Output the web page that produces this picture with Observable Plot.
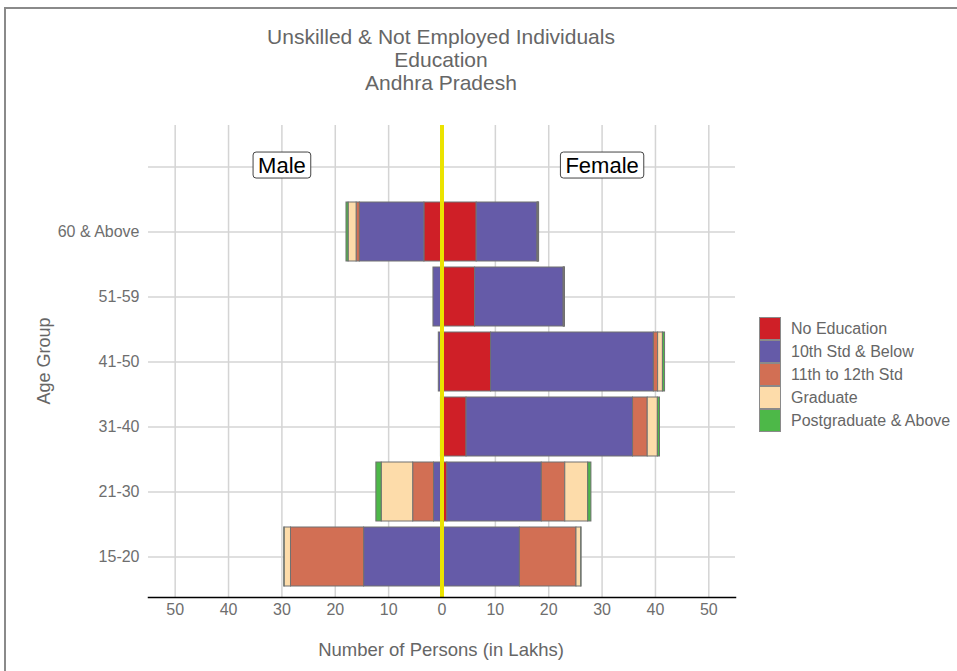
<!DOCTYPE html>
<html><head><meta charset="utf-8">
<script src="https://cdn.jsdelivr.net/npm/d3@7"></script>
<script src="https://cdn.jsdelivr.net/npm/@observablehq/plot@0.6"></script>
<style>
html,body{margin:0;padding:0;background:#fff}
body{width:957px;height:671px;overflow:hidden;position:relative;font-family:"Liberation Sans",Arial,sans-serif;color:#666}
#frame{position:absolute;left:4px;top:7px;width:1000px;height:1000px;border:2px solid #8a8a8a;box-sizing:border-box}
#chart{position:absolute;left:0;top:0}
#title{position:absolute;left:191px;width:500px;top:25px;text-align:center;font-size:21px;line-height:23px;color:#666}
#xlabel{position:absolute;left:191px;width:500px;top:639px;text-align:center;font-size:18.5px;color:#666}
#ylabel{position:absolute;left:44px;top:361px;transform:translate(-50%,-50%) rotate(-90deg);font-size:18px;color:#666;white-space:nowrap}
#legend{position:absolute;left:759px;top:317px}
.li{display:flex;align-items:center;height:23px}
.sw{width:20px;height:21px;border:1px solid #8a8a8a;box-sizing:content-box;margin-right:10px}
.lt{font-size:16px;color:#666;white-space:nowrap}
</style></head><body>
<div id="frame"></div>
<div id="chart"></div>
<div id="title"></div>
<div id="xlabel"></div>
<div id="ylabel"></div>
<div id="legend"></div>
<script>
const titleLines = ["Unskilled & Not Employed Individuals", "Education", "Andhra Pradesh"];
const xTitle = "Number of Persons (in Lakhs)";
const yTitle = "Age Group";
const ageGroups = ["60 & Above", "51-59", "41-50", "31-40", "21-30", "15-20"];
const educationLevels = ["No Education", "10th Std & Below", "11th to 12th Std", "Graduate", "Postgraduate & Above"];
const levelColors = ["#cf1f27", "#655ba8", "#d26f54", "#fddcaa", "#4db848"];
const xTicks = [-50, -40, -30, -20, -10, 0, 10, 20, 30, 40, 50];
const sexLabels = ["Male", "Female"];
const sexLabelX = [-30, 30];

// values in lakhs, per age group (same order as ageGroups)
const maleNoEducation   = [3.3, 0.1, 0.1, 0.1, 0.2, 0.1];
const maleTenth         = [12.1, 1.5, 0.5, 0.1, 1.3, 14.5];
const maleEleventh      = [0.6, 0, 0, 0, 3.9, 13.7];
const maleGraduate      = [1.5, 0, 0, 0, 5.9, 1.2];
const malePostgraduate  = [0.4, 0, 0, 0, 1.0, 0.05];

const femaleNoEducation  = [6.5, 6.2, 9.2, 4.6, 1.0, 0.1];
const femaleTenth        = [11.4, 16.6, 30.5, 31.2, 17.7, 14.5];
const femaleEleventh     = [0.1, 0.1, 0.8, 2.75, 4.4, 10.6];
const femaleGraduate     = [0.15, 0.1, 0.9, 1.9, 4.3, 0.9];
const femalePostgraduate = [0.05, 0.05, 0.4, 0.4, 0.6, 0.05];

const maleSeries = [maleNoEducation, maleTenth, maleEleventh, maleGraduate, malePostgraduate];
const femaleSeries = [femaleNoEducation, femaleTenth, femaleEleventh, femaleGraduate, femalePostgraduate];

const rows = [];
ageGroups.forEach((age, i) => {
  educationLevels.forEach((lvl, j) => {
    if (maleSeries[j][i] > 0) rows.push({age, level: lvl, sex: "Male", value: -maleSeries[j][i]});
  });
  educationLevels.forEach((lvl, j) => {
    if (femaleSeries[j][i] > 0) rows.push({age, level: lvl, sex: "Female", value: femaleSeries[j][i]});
  });
});

const labelRow = " ";
const yDomain = [labelRow, ...ageGroups];

const plot = Plot.plot({
  width: 957, height: 671,
  marginLeft: 148, marginRight: 222, marginTop: 125, marginBottom: 74,
  style: {fontFamily: "'Liberation Sans', Arial, sans-serif", fontSize: "16px", color: "#6e6e6e", background: "transparent", overflow: "visible"},
  x: {domain: [-55, 55], label: null},
  y: {domain: yDomain, paddingInner: 0.1, paddingOuter: 0.15, align: 0.5, label: null},
  color: {domain: educationLevels, range: levelColors},
  marks: [
    Plot.gridX(xTicks, {stroke: "#d4d4d4", strokeOpacity: 1, strokeWidth: 1.5}),
    Plot.gridY(yDomain, {stroke: "#d4d4d4", strokeOpacity: 1, strokeWidth: 1.5}),
    Plot.barX(rows, Plot.stackX({y: "age", x: "value", fill: "level", stroke: "#707070", strokeWidth: 1})),
    Plot.ruleX([0], {stroke: "#ebe300", strokeWidth: 4}),
    Plot.axisX(xTicks, {tickSize: 0, tickPadding: 6, tickFormat: d => Math.abs(d), fontSize: 16, label: null}),
    Plot.axisY(ageGroups, {tickSize: 0, tickPadding: 9, fontSize: 16, label: null}),
    Plot.frame({anchor: "bottom", stroke: "#000", strokeWidth: 1.5}),
    Plot.text(sexLabels, {x: (d, i) => sexLabelX[i], y: () => labelRow, text: d => d, fill: "#000", fontSize: 22, dy: -1})
  ]
});
document.getElementById("chart").appendChild(plot);

// white rounded boxes behind the Male / Female labels
plot.querySelectorAll('g[aria-label="text"] text').forEach(t => {
  const b = t.getBBox();
  const r = document.createElementNS("http://www.w3.org/2000/svg", "rect");
  const tr = t.getAttribute("transform");
  if (tr) r.setAttribute("transform", tr);
  r.setAttribute("x", b.x - 5); r.setAttribute("y", b.y - 1);
  r.setAttribute("width", b.width + 10); r.setAttribute("height", b.height + 1);
  r.setAttribute("rx", 3); r.setAttribute("fill", "#fff");
  r.setAttribute("stroke", "#444"); r.setAttribute("stroke-width", 1);
  t.parentNode.insertBefore(r, t);
});

document.getElementById("title").innerHTML = titleLines.map(s => `<div>${s.replace(/&/g, "&amp;")}</div>`).join("");
document.getElementById("xlabel").textContent = xTitle;
document.getElementById("ylabel").textContent = yTitle;
document.getElementById("legend").innerHTML = educationLevels.map((l, i) =>
  `<div class="li"><div class="sw" style="background:${levelColors[i]}"></div><div class="lt">${l.replace(/&/g, "&amp;")}</div></div>`).join("");
</script>
</body></html>
